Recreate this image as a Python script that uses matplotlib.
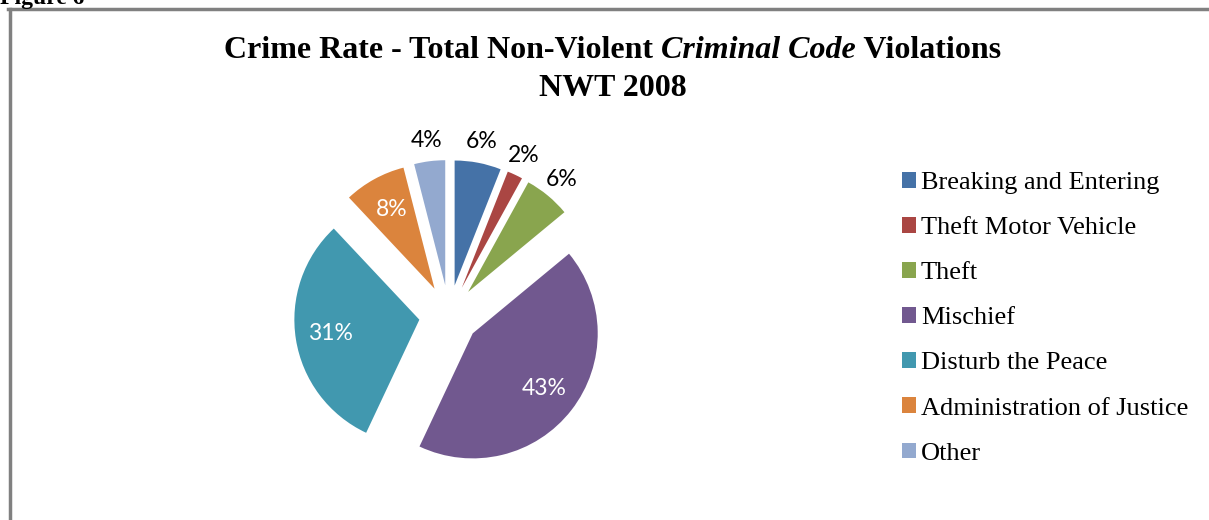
import matplotlib
matplotlib.use('Agg')
import matplotlib.pyplot as plt
import numpy as np
from matplotlib.lines import Line2D

# 2008年西北地区非暴力刑事案件构成
categories = ['Breaking and Entering', 'Theft Motor Vehicle', 'Theft', 'Mischief',
              'Disturb the Peace', 'Administration of Justice', 'Other']
shares = [6, 2, 6, 43, 31, 8, 4]
colors = ['#4572A7', '#AA4643', '#89A54E', '#71588F', '#4198AF', '#DB843D', '#93A9CF']
inside = [False, False, False, True, True, True, False]

W, H = 1209, 520
fig = plt.figure(figsize=(W / 100, H / 100), dpi=100)

# 整张图用像素坐标的轴
ax = fig.add_axes([0, 0, 1, 1])

cx, cy, r = 449, H - 315, 125
wedges, _ = ax.pie(shares, colors=colors, startangle=90, counterclock=False,
                   radius=r, center=(cx, cy), explode=[30] * len(shares),
                   frame=True)
ax.set_xlim(0, W)
ax.set_ylim(0, H)
ax.set_aspect('equal')
ax.axis('off')

# 百分比标签：大块在内部白字，小块在外部黑字
for w, v, ins in zip(wedges, shares, inside):
    th = np.deg2rad((w.theta1 + w.theta2) / 2)
    wx, wy = w.center
    d = 0.72 * r if ins else 1.17 * r
    ax.text(wx + d * np.cos(th), wy + d * np.sin(th), f'{v}%',
            ha='center', va='center', fontsize=16.5, family='Lato',
            color='white' if ins else 'black')

# 图例
leg = ax.legend(wedges, categories, loc='upper left', bbox_to_anchor=(902 / W, 1 - 172 / H),
                frameon=False, handlelength=0.53, handleheight=0.53, handletextpad=0.19,
                labelspacing=0.87, borderpad=0, borderaxespad=0,
                prop={'family': 'Liberation Serif', 'size': 19})

# 标题（中间一段斜体）
fs = 23
ty = 1 - 50 / H
parts = [('Crime Rate - Total Non-Violent ', 'normal'),
         ('Criminal Code', 'italic'),
         (' Violations', 'normal')]
fig.canvas.draw()
rend = fig.canvas.get_renderer()
texts = [fig.text(0, ty, s, family='Liberation Serif', weight='bold', style=st,
                  size=fs, va='center', ha='left') for s, st in parts]
widths = [t.get_window_extent(rend).width for t in texts]
x = 612.5 - sum(widths) / 2
for t, wd in zip(texts, widths):
    t.set_x(x / W)
    x += wd
fig.text(613 / W, 1 - 88 / H, 'NWT 2008', family='Liberation Serif', weight='bold',
         size=fs, va='center', ha='center')

# 上方被截断的图号
fig.text(0, 1 - 4 / H, 'Figure 6', family='Liberation Serif', weight='bold',
         size=17, va='baseline', ha='left')

# 灰色外框
fig.add_artist(Line2D([8 / W, 1], [1 - 8.5 / H, 1 - 8.5 / H], color='#808080', lw=2.5,
                      transform=fig.transFigure))
fig.add_artist(Line2D([9.5 / W, 9.5 / W], [0, 1 - 8.5 / H], color='#808080', lw=2.5,
                      transform=fig.transFigure))

fig.savefig('out.png', dpi=100, facecolor='white')
